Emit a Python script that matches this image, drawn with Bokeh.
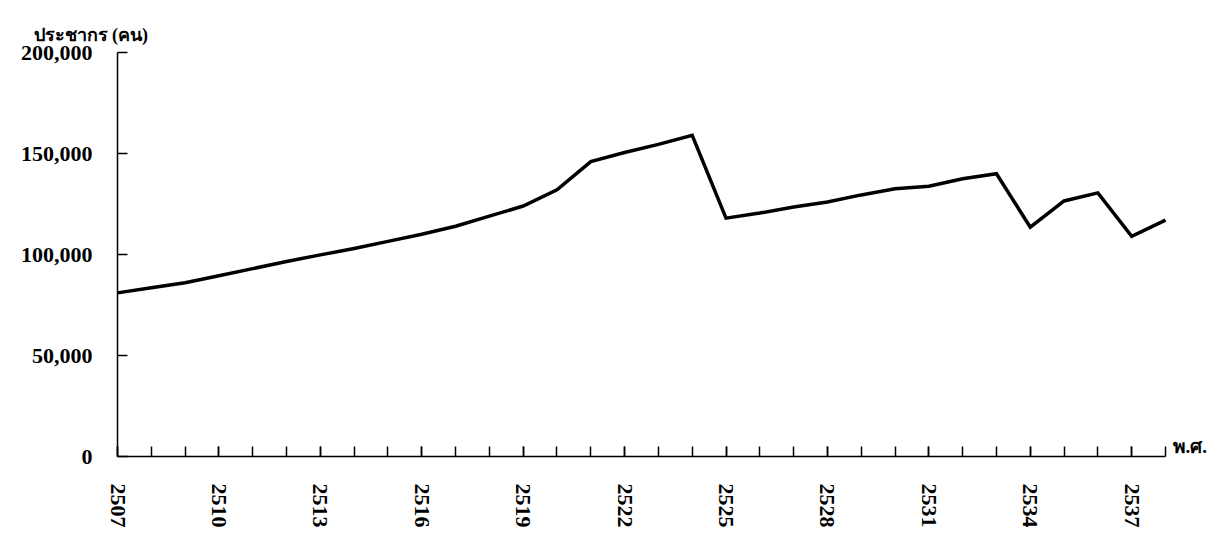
import math
from bokeh.plotting import figure
from bokeh.models import FixedTicker, Label, NumeralTickFormatter, Title
from bokeh.embed import file_html
from bokeh.resources import INLINE

years = list(range(2507, 2539))
population = [81000, 83500, 86000, 89500, 93000, 96500, 99800, 103000, 106500,
              110000, 114000, 119000, 124000, 132000, 146000, 150500, 154500, 159000,
              118000, 120500, 123500, 126000, 129500, 132500, 133800, 137500, 140000,
              113500, 126500, 130500, 109000, 117000]
label_years = list(range(2507, 2539, 3))
y_ticks = [0, 50000, 100000, 150000, 200000]
y_title = "ประชากร (คน)"
x_title = "พ.ศ."

FONT = "Liberation Serif"

W, H = 1215, 530
LEFT, TOP, BOTTOM = 117, 52, 74
px_per_year = 1048 / (years[-1] - years[0])
x_end = years[0] + (W - LEFT) / px_per_year

p = figure(width=W, height=H, output_backend="svg", toolbar_location=None,
           x_range=(years[0], x_end), y_range=(0, 200000),
           min_border_left=LEFT, min_border_right=0, min_border_top=TOP,
           min_border_bottom=BOTTOM)
p.outline_line_color = None
p.xgrid.visible = False
p.ygrid.visible = False
p.background_fill_color = "white"

p.line(years, population, line_color="black", line_width=3.5, line_join="miter")

# x axis
xa = p.xaxis[0]
xa.bounds = (years[0], years[-1])
xa.ticker = FixedTicker(ticks=label_years, minor_ticks=years)
xa.major_tick_in = 10
xa.major_tick_out = 0
xa.minor_tick_in = 10
xa.minor_tick_out = 0
xa.axis_line_width = 1.5
xa.major_tick_line_width = 1.5
xa.minor_tick_line_width = 1.5
xa.major_label_orientation = -math.pi / 2
xa.major_label_standoff = 27
xa.major_label_text_font = FONT
xa.major_label_text_font_style = "bold"
xa.major_label_text_font_size = "22px"
xa.major_label_text_color = "black"

# y axis
ya = p.yaxis[0]
ya.ticker = FixedTicker(ticks=y_ticks)
ya.formatter = NumeralTickFormatter(format="0,0")
ya.major_tick_in = 10
ya.major_tick_out = 0
ya.minor_tick_line_color = None
ya.axis_line_width = 1.5
ya.major_tick_line_width = 1.5
ya.major_label_standoff = 25
ya.major_label_text_font = FONT
ya.major_label_text_font_style = "bold"
ya.major_label_text_font_size = "22px"
ya.major_label_text_color = "black"

p.add_layout(Title(text=y_title, align="left", offset=-84, standoff=15,
                   text_font=FONT, text_font_style="bold", text_font_size="18px",
                   text_color="black"), "above")
p.add_layout(Label(x=years[-1], y=0, x_offset=7, y_offset=0, text=x_title,
                   text_font=FONT, text_font_style="bold", text_font_size="19px",
                   text_color="black", text_baseline="bottom", text_align="left"))

open("out.html", "w").write(file_html(p, INLINE))
